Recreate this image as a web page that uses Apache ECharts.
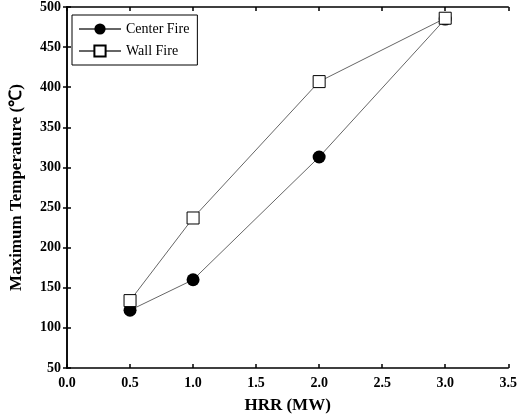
<!DOCTYPE html><html><head><meta charset="utf-8"><script src="https://cdn.jsdelivr.net/npm/echarts@6/dist/echarts.min.js"></script>
<style>html,body{margin:0;padding:0;background:#fff}#c{width:520px;height:419px}</style></head><body><div id="c"></div><script>
const hrr=[0.5,1.0,2.0,3.0];
const centerFire=[122,160,313,485];
const wallFire=[134,237,407,486];
const F='Liberation Serif';
const lab={fontFamily:F,fontWeight:'bold',fontSize:14,color:'#000'};
const axLine={lineStyle:{color:'#000',width:1.5}};
const c=echarts.init(document.getElementById('c'));
c.setOption({animation:false,
grid:{left:62,right:8,top:7,bottom:46},
legend:{left:72,top:15,orient:'vertical',itemGap:8,itemWidth:42,itemHeight:14,borderColor:'#000',borderWidth:1,padding:[7,8,7,6],
 textStyle:{fontFamily:F,fontSize:14,color:'#000'},data:['Center Fire','Wall Fire']},
xAxis:[{type:'value',min:0,max:3.5,interval:0.5,name:'HRR (MW)',nameLocation:'middle',nameGap:29,nameTextStyle:{fontFamily:F,fontWeight:'bold',fontSize:17,color:'#000'},
 axisLine:axLine,axisTick:{inside:true,length:4,lineStyle:{color:'#000',width:1.5}},splitLine:{show:false},
 axisLabel:Object.assign({formatter:v=>v.toFixed(1),margin:8},lab)},
 {type:'value',position:'top',min:0,max:3.5,interval:0.5,axisLine:axLine,axisTick:{inside:true,length:4,lineStyle:{color:'#000',width:1.5}},axisLabel:{show:false},splitLine:{show:false}}],
yAxis:[{type:'value',min:50,max:500,interval:50,name:'Maximum Temperature (℃)',nameLocation:'middle',nameGap:42,nameTextStyle:{fontFamily:F,fontWeight:'bold',fontSize:17,color:'#000'},
 axisLine:axLine,axisTick:{inside:true,length:4,lineStyle:{color:'#000',width:1.5}},splitLine:{show:false},axisLabel:Object.assign({margin:6},lab)},
 {type:'value',position:'right',min:50,max:500,interval:50,axisLine:axLine,axisTick:{inside:true,length:4,lineStyle:{color:'#000',width:1.5}},axisLabel:{show:false},splitLine:{show:false}}],
series:[{name:'Center Fire',type:'line',data:hrr.map((x,i)=>[x,centerFire[i]]),symbol:'circle',symbolSize:13,
 itemStyle:{color:'#000'},lineStyle:{color:'#666',width:1}},
 {name:'Wall Fire',type:'line',data:hrr.map((x,i)=>[x,wallFire[i]]),symbol:'rect',symbolSize:12,
 itemStyle:{color:'#fff',borderColor:'#000',borderWidth:1},lineStyle:{color:'#666',width:1}}]
});
</script></body></html>
